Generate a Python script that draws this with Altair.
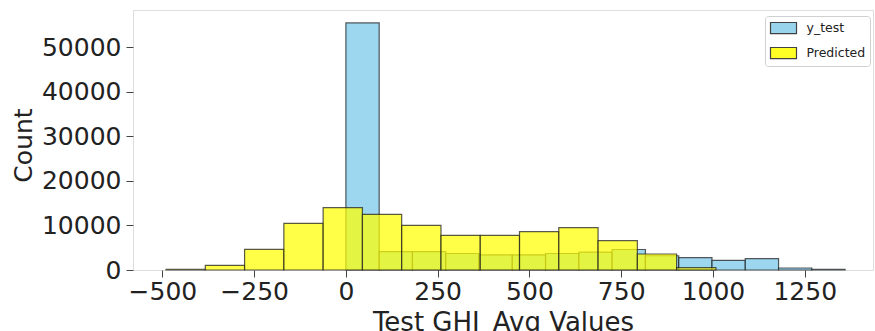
import altair as alt
import pandas as pd

# y_test histogram (bin edges and counts)
ytest_edges = [0, 90.7, 181.3, 272, 362.7, 453.3, 544, 634.7, 725.3, 816,
               906.7, 997.3, 1088, 1178.7, 1269.3, 1360]
ytest_counts = [55400, 4100, 4100, 3700, 3400, 3400, 3700, 4000, 4600, 3200,
                2760, 2170, 2530, 450, 150]

# Predicted histogram (bin edges and counts)
pred_edges = [-490, -383, -276, -169, -62, 45, 152, 259, 366, 473, 580,
              687, 794, 901, 1008]
pred_counts = [150, 1050, 4640, 10470, 13970, 12480, 10020, 7780, 7780,
               8590, 9490, 6580, 3590, 520]

x_ticks = [-500, -250, 0, 250, 500, 750, 1000, 1250]
y_ticks = [0, 10000, 20000, 30000, 40000, 50000]
series_names = ["y_test", "Predicted"]
series_colors = ["#87CEEB", "#FFFF00"]


def table(name, edges, counts):
    return pd.DataFrame({
        "series": name,
        "x0": edges[:-1],
        "x1": edges[1:],
        "count": counts,
    })


df_y = table("y_test", ytest_edges, ytest_counts)
df_p = table("Predicted", pred_edges, pred_counts)

FONT = "DejaVu Sans"

xscale = alt.Scale(domain=[-580, 1436], nice=False, zero=False)
yscale = alt.Scale(domain=[0, 58300], nice=False)
cscale = alt.Scale(domain=series_names, range=series_colors)

xenc = alt.X("x0:Q", scale=xscale,
             axis=alt.Axis(values=x_ticks, format="d", title="Test GHI_Avg Values",
                           grid=False, domain=False, tickSize=7, tickColor="#444",
                           labelPadding=2, labelFontSize=25, labelColor="#222",
                           labelFont=FONT, titleFont=FONT, titleFontSize=26,
                           titleFontWeight="normal", titleColor="#222",
                           titleBaseline="alphabetic", titleY=60))
yenc = alt.Y("count:Q", scale=yscale,
             axis=alt.Axis(values=y_ticks, format="d", title="Count",
                           grid=False, domain=False, tickSize=7, tickColor="#444",
                           labelPadding=5, labelFontSize=25, labelColor="#222",
                           labelFont=FONT, titleFont=FONT, titleFontSize=25,
                           titleFontWeight="normal", titleColor="#222",
                           titleAngle=-90, titleBaseline="alphabetic",
                           titleX=-102, titleY=135, titleAlign="center"))

legend = alt.Legend(
    title=None, orient="none", legendX=632, legendY=6,
    symbolType="M-1,-0.85H3V0.85H-1Z", symbolSize=169,
    symbolStrokeColor="#222", symbolStrokeWidth=1.2, symbolOpacity=0.85,
    labelFont=FONT, labelFontSize=12.5, labelColor="#222", labelOffset=22,
    rowPadding=8, padding=4.5, strokeColor="#d0d0d0", fillColor="white",
    cornerRadius=3,
)

cenc = alt.Color("series:N", scale=cscale, legend=legend, sort=series_names)

blue = alt.Chart(df_y).mark_rect(
    fillOpacity=0.82, stroke="#222", strokeOpacity=0.75, strokeWidth=1.2
).encode(x=xenc, x2="x1:Q", y=yenc, y2=alt.datum(0), color=cenc)

yellow = alt.Chart(df_p).mark_rect(
    fillOpacity=0.72, stroke="#222", strokeOpacity=0.75, strokeWidth=1.2
).encode(x=xenc, x2="x1:Q", y=yenc, y2=alt.datum(0), color=cenc)

chart = alt.layer(blue, yellow).properties(
    width=740, height=260,
    autosize=alt.AutoSizeParams(type="none"),
    padding={"left": 133, "top": 10, "right": 2, "bottom": 61},
).configure_view(stroke="#555", strokeWidth=1.2).configure(background="white")

chart.save("out.html", embed_options={"renderer": "svg", "actions": False})
